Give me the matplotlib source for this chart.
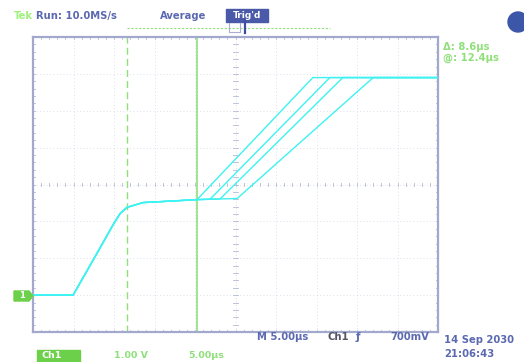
import matplotlib
matplotlib.use("Agg")
import matplotlib.pyplot as plt
from matplotlib.patches import Circle, Rectangle, Polygon

# ---- data (divisions: x 0..10, y -4..4) ----
common_t = [0.0, 0.99, 1.5, 2.0, 2.15, 2.32, 2.72, 3.4, 4.05]
common_v = [-3.0, -3.0, -2.02, -1.05, -0.79, -0.62, -0.49, -0.45, -0.41]

branch_A_t = [4.05, 6.91, 10.0]
branch_A_v = [-0.41, 2.90, 2.90]
branch_B_t = [4.37, 7.33, 10.0]
branch_B_v = [-0.40, 2.90, 2.90]
branch_C_t = [4.62, 7.65, 10.0]
branch_C_v = [-0.39, 2.90, 2.90]
branch_D_t = [5.04, 8.40, 10.0]
branch_D_v = [-0.38, 2.90, 2.90]

cursor_dashed = 2.32
cursor_solid = 4.05

W, H = 524, 362
fig = plt.figure(figsize=(W / 100, H / 100), dpi=100)
fig.patch.set_facecolor("white")

L, R, T, B = 33, 438, 37, 332
ax = fig.add_axes([L / W, 1 - B / H, (R - L) / W, (B - T) / H])
ax.set_xlim(0, 10)
ax.set_ylim(-4, 4)
ax.set_xticks([])
ax.set_yticks([])
frame_col = "#a3a9cc"
for s in ax.spines.values():
    s.set_color(frame_col)
    s.set_linewidth(1.6)

grid_col = "#d2d5e6"
for i in range(1, 10):
    ax.axvline(i, color=grid_col, lw=0.6, ls=(0, (1, 3)), zorder=1)
for j in range(-3, 4):
    ax.axhline(j, color=grid_col, lw=0.6, ls=(0, (1, 3)), zorder=1)
# center line ticks
tick_col = "#b4b9d6"
for k in range(1, 50):
    x = k * 0.2
    ax.plot([x, x], [-0.05, 0.05], color=tick_col, lw=0.6, zorder=1)
    ax.plot([x, x], [3.94, 4.0], color=tick_col, lw=0.6, zorder=1)
    ax.plot([x, x], [-4.0, -3.94], color=tick_col, lw=0.6, zorder=1)
for k in range(1, 40):
    y = -4 + k * 0.2
    ax.plot([4.95, 5.05], [y, y], color=tick_col, lw=0.6, zorder=1)
    ax.plot([0, 0.06], [y, y], color=tick_col, lw=0.6, zorder=1)
    ax.plot([9.94, 10], [y, y], color=tick_col, lw=0.6, zorder=1)

# cursors
green = "#8fe07a"
ax.axvline(cursor_dashed, color=green, lw=1.0, ls=(0, (5, 3)), zorder=2)
ax.axvline(cursor_solid, color=green, lw=1.2, zorder=2)

# waveforms
cyan = "#3ef2f2"
for bt, bv in [(branch_A_t, branch_A_v), (branch_B_t, branch_B_v),
               (branch_C_t, branch_C_v), (branch_D_t, branch_D_v)]:
    ax.plot(common_t + bt, common_v + bv, color=cyan, lw=1.0, zorder=3,
            solid_joinstyle="round")

# ---- overlay text (figure pixel coords) ----
ov = fig.add_axes([0, 0, 1, 1], zorder=10)
ov.set_xlim(0, W)
ov.set_ylim(H, 0)
ov.axis("off")
ov.patch.set_alpha(0)

blue = "#5b69b0"
fs = 7.2
ov.text(14, 16, "Tek", color="#9ef07c", fontsize=fs, fontweight="bold", va="center")
ov.text(36, 16, "Run: 10.0MS/s", color=blue, fontsize=fs, fontweight="bold", va="center")
ov.text(160, 16, "Average", color=blue, fontsize=fs, fontweight="bold", va="center")
ov.add_patch(Rectangle((226, 9), 42, 13, color="#4b5aa8"))
ov.text(247, 15.5, "Trig'd", color="white", fontsize=6.5, fontweight="bold",
        va="center", ha="center")
# record bar
ov.plot([127, 330], [28, 28], color=green, lw=0.8, ls=(0, (2, 1.5)))
ov.plot([229, 229, 240, 240], [23, 32, 32, 23], color="#a8aed4", lw=0.8)
ov.plot([245, 245], [20, 33], color="#3d4fa0", lw=1.6)

# cursor readouts
ov.text(443, 47, "Δ: 8.6μs", color="#8fe07a", fontsize=fs, fontweight="bold", va="center")
ov.text(443, 58, "@: 12.4μs", color="#8fe07a", fontsize=fs, fontweight="bold", va="center")
ov.add_patch(Circle((518, 22), 10, color="#3d57a8"))

# bottom status
ov.text(257, 337, "M 5.00μs", color=blue, fontsize=fs, fontweight="bold", va="center")
ov.text(328, 337, "Ch1", color="#555566", fontsize=fs, fontweight="bold", va="center")
ov.text(356, 337, "ƒ", color=blue, fontsize=fs, fontweight="bold", va="center")
ov.text(390, 337, "700mV", color=blue, fontsize=fs, fontweight="bold", va="center")
ov.text(444, 340, "14 Sep 2030", color=blue, fontsize=fs, fontweight="bold", va="center")
ov.text(444, 354, "21:06:43", color=blue, fontsize=fs, fontweight="bold", va="center")

ov.add_patch(Rectangle((37, 350), 43, 12, color="#6cd04a"))
ov.text(41, 355.5, "Ch1", color="white", fontsize=6.8, fontweight="bold", va="center")
ov.text(114, 355.5, "1.00 V", color="#8fe07a", fontsize=6.8, fontweight="bold", va="center")
ov.text(188, 355.5, "5.00μs", color="#8fe07a", fontsize=6.8, fontweight="bold", va="center")

# channel marker
ov.add_patch(Polygon([[14, 291], [29, 291], [33, 296], [29, 301], [14, 301]],
                     closed=True, color="#6cd04a"))
ov.text(22, 296, "1", color="white", fontsize=6, fontweight="bold",
        va="center", ha="center")

fig.savefig("out.png", dpi=100)
